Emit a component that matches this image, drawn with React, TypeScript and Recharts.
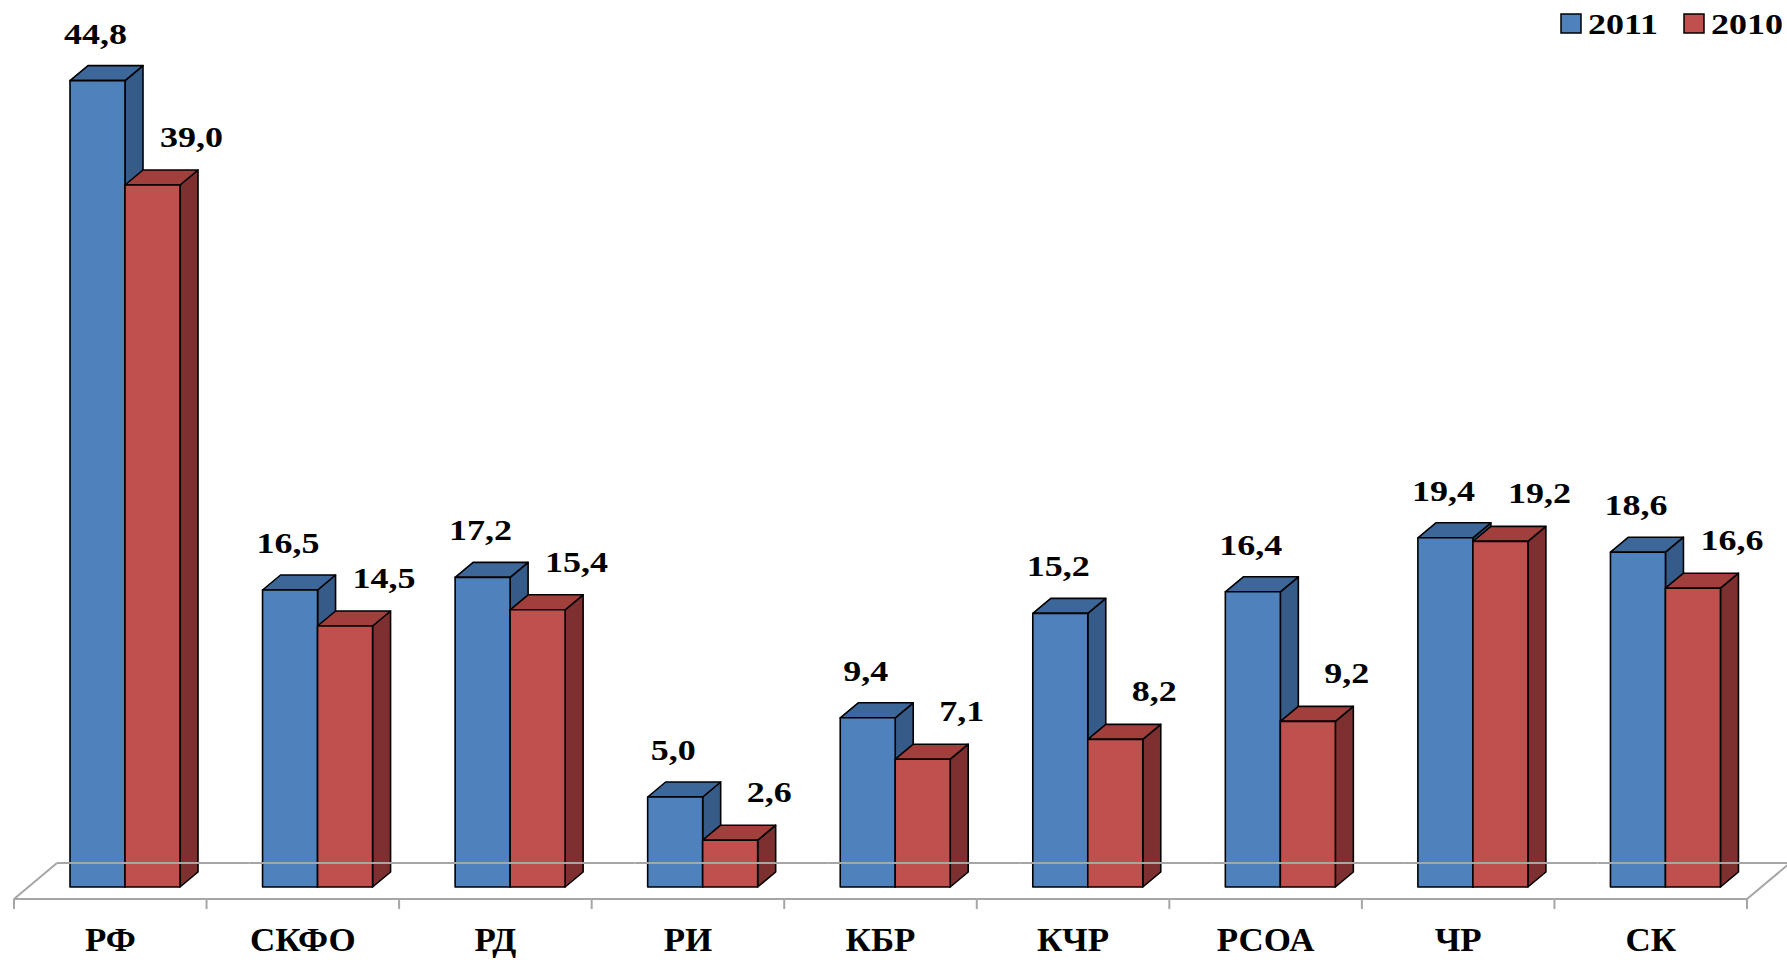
import React from 'react';
import { BarChart, Bar, XAxis, YAxis, Legend, LabelList } from 'recharts';

const categories = ['РФ', 'СКФО', 'РД', 'РИ', 'КБР', 'КЧР', 'РСОА', 'ЧР', 'СК'];
const values2011 = [44.8, 16.5, 17.2, 5.0, 9.4, 15.2, 16.4, 19.4, 18.6];
const values2010 = [39.0, 14.5, 15.4, 2.6, 7.1, 8.2, 9.2, 19.2, 16.6];
const seriesNames = ['2011', '2010'];

const data = categories.map((c, i) => ({ name: c, y2011: values2011[i], y2010: values2010[i] }));

const W = 1787;
const H = 960;
const MARGIN = { top: 23, right: 40, bottom: 13, left: 14 };
const X_AXIS_H = 60;
const PLOT_W = W - MARGIN.left - MARGIN.right;
const CAT_W = PLOT_W / categories.length;
const DEPTH_X = 18;
const DEPTH_Y = 15;
const SHIFT = 15;
const FLOOR_DX = 43;
const FLOOR_FRONT = 12;
const FLOOR_BACK = 24;
const FONT = '"Liberation Serif", "Times New Roman", serif';
const STRETCH = 1.2;

const BLUE = { front: '#4F81BD', top: '#3D6699', side: '#355B89' };
const RED = { front: '#C0504D', top: '#A13F3C', side: '#7D302F' };

const fmt = (v: number) => Number(v).toFixed(1).replace('.', ',');

const makeShape = (c: { front: string; top: string; side: string }) => (props: any) => {
  const { x, y, width, height } = props;
  if (height == null || isNaN(height)) return null;
  const x0 = x + SHIFT;
  const x1 = x0 + width;
  const yb = y + height;
  return (
    <g stroke="#000" strokeWidth={1.6} strokeLinejoin="round">
      <polygon
        points={`${x1},${y} ${x1 + DEPTH_X},${y - DEPTH_Y} ${x1 + DEPTH_X},${yb - DEPTH_Y} ${x1},${yb}`}
        fill={c.side}
      />
      <polygon
        points={`${x0},${y} ${x0 + DEPTH_X},${y - DEPTH_Y} ${x1 + DEPTH_X},${y - DEPTH_Y} ${x1},${y}`}
        fill={c.top}
      />
      <rect x={x0} y={y} width={width} height={height} fill={c.front} />
    </g>
  );
};

const makeLabel = (dx: number, dy: number) => (props: any) => {
  const { x, y, width, value } = props;
  const cx = x + SHIFT + width / 2 + dx;
  const by = y - dy;
  return (
    <text
      transform={`translate(${cx},${by}) scale(${STRETCH},1)`}
      textAnchor="middle"
      fontFamily={FONT}
      fontWeight="bold"
      fontSize={30}
      fill="#000"
    >
      {fmt(value)}
    </text>
  );
};

const FloorTick = (props: any) => {
  const { x, y, payload } = props;
  const index = props.index ?? payload?.index ?? 0;
  const left = x - CAT_W / 2;
  const right = x + CAT_W / 2;
  const yf = y + FLOOR_FRONT;
  const yk = y - FLOOR_BACK;
  const last = index === categories.length - 1;
  const stroke = '#A6A6A6';
  return (
    <g>
      <line x1={left} y1={yf} x2={right} y2={yf} stroke={stroke} strokeWidth={2} />
      <line x1={left + FLOOR_DX} y1={yk} x2={right + FLOOR_DX} y2={yk} stroke={stroke} strokeWidth={2} />
      <line x1={left} y1={yf} x2={left} y2={yf + 10} stroke={stroke} strokeWidth={2} />
      {last && <line x1={right} y1={yf} x2={right} y2={yf + 10} stroke={stroke} strokeWidth={2} />}
      {index === 0 && <line x1={left} y1={yf} x2={left + FLOOR_DX} y2={yk} stroke={stroke} strokeWidth={2} />}
      {last && <line x1={right} y1={yf} x2={right + FLOOR_DX} y2={yk} stroke={stroke} strokeWidth={2} />}
      <text
        transform={`translate(${x},${y + 64}) scale(1.06,1)`}
        textAnchor="middle"
        fontFamily={FONT}
        fontWeight="bold"
        fontSize={33}
        fill="#000"
      >
        {payload.value}
      </text>
    </g>
  );
};

const LegendContent = () => {
  const items = [
    { name: seriesNames[0], color: BLUE.front },
    { name: seriesNames[1], color: RED.front },
  ];
  return (
    <svg width={240} height={40} style={{ display: 'block' }}>
      {items.map((it, i) => (
        <g key={it.name} transform={`translate(${5 + i * 123},0)`}>
          <rect x={0} y={14} width={20} height={19} fill={it.color} stroke="#000" strokeWidth={1.5} />
          <text
            transform={`translate(27,34) scale(${STRETCH},1)`}
            fontFamily={FONT}
            fontWeight="bold"
            fontSize={30}
            fill="#000"
          >
            {it.name}
          </text>
        </g>
      ))}
    </svg>
  );
};

export default function App() {
  return (
    <div style={{ position: 'absolute', left: 0, top: 0, width: W, height: H, background: '#fff' }}>
      <BarChart width={W} height={H} data={data} margin={MARGIN} barGap={0} barSize={55}>
        <XAxis
          dataKey="name"
          axisLine={false}
          tickLine={false}
          tickSize={0}
          tickMargin={0}
          height={X_AXIS_H}
          interval={0}
          tick={<FloorTick />}
        />
        <YAxis hide domain={[0, 48]} />
        <Legend
          layout="horizontal"
          verticalAlign="middle"
          align="center"
          wrapperStyle={{ position: 'absolute', top: 0, left: 1556, width: 240, height: 40 }}
          content={<LegendContent />}
        />
        <Bar dataKey="y2011" name={seriesNames[0]} fill={BLUE.front} isAnimationActive={false} shape={makeShape(BLUE)}>
          <LabelList dataKey="y2011" content={makeLabel(-2, 37)} />
        </Bar>
        <Bar dataKey="y2010" name={seriesNames[1]} fill={RED.front} isAnimationActive={false} shape={makeShape(RED)}>
          <LabelList dataKey="y2010" content={makeLabel(39, 38)} />
        </Bar>
      </BarChart>
    </div>
  );
}
